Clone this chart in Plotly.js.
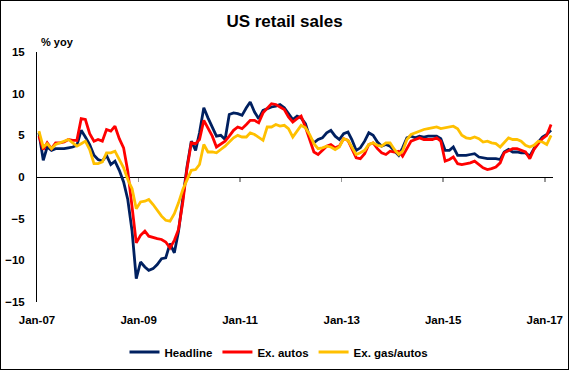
<!DOCTYPE html>
<html>
<head>
<meta charset="utf-8">
<script src="https://cdn.plot.ly/plotly-3.0.1.min.js"></script>
<style>
  html, body { margin: 0; padding: 0; background: #fff; }
  #wrap { width: 569px; height: 370px; box-sizing: border-box; border: 1px solid #000; }
  #chart { width: 567px; height: 368px; }
</style>
</head>
<body>
<div id="wrap"><div id="chart"></div></div>
<script>
// Monthly series, Jan-07 .. Feb-17 (% yoy)
const startYear = 2007;
const seriesNames = ['Headline', 'Ex. autos', 'Ex. gas/autos'];
const seriesColors = ['#002060', '#FF0000', '#FFC000'];

const headline = [
  5.3, 2.0, 3.6, 3.2, 3.4, 3.4, 3.4, 3.5, 3.6, 3.8, 5.6, 4.8,
  3.9, 2.6, 2.1, 1.9, 2.6, 1.5, 1.9, 0.8, -0.6, -2.7, -6.5, -12.2,
  -10.2, -10.8, -11.2, -11.0, -10.5, -9.8, -9.7, -8.0, -9.1, -6.5, -2.5, 1.2,
  4.3, 3.2, 5.3, 8.3, 7.1, 5.9, 4.9, 5.0, 4.5, 7.5, 7.7, 7.6,
  7.4, 8.3, 9.0, 7.8, 7.0, 8.0, 8.2, 8.4, 8.5, 8.7, 8.3, 7.6,
  6.9, 7.3, 7.1, 6.4, 4.8, 4.1, 4.5, 4.7, 5.3, 5.6, 4.9, 4.5,
  5.2, 5.4, 4.5, 3.2, 3.5, 4.3, 5.3, 5.0, 4.2, 3.7, 3.9, 3.7,
  3.1, 2.6, 3.5, 4.7, 4.9, 4.7, 4.9, 4.8, 4.9, 4.9, 4.9, 4.6,
  3.2, 3.2, 3.6, 2.6, 2.6, 2.6, 2.7, 2.8, 2.4, 2.3, 2.2, 2.2,
  2.2, 2.1, 3.0, 3.3, 3.0, 3.0, 2.9, 2.9, 2.5, 3.4, 4.2, 4.8,
  5.1, 5.6
];
const exAutos = [
  4.9, 3.3, 4.1, 3.4, 4.1, 4.1, 4.2, 4.5, 4.4, 4.4, 7.0, 6.9,
  5.2, 4.3, 4.5, 4.3, 5.7, 5.5, 6.1, 4.6, 3.5, 0.7, -3.6, -7.9,
  -7.0, -6.5, -7.1, -7.3, -7.4, -7.5, -7.8, -8.5, -7.6, -6.3, -3.0, 1.0,
  4.1, 4.0, 4.5, 6.8, 5.9, 4.9, 3.6, 3.9, 4.3, 4.9, 5.6, 6.0,
  5.8, 6.3, 6.8, 6.8, 6.5, 7.7, 8.2, 8.8, 8.7, 8.4, 8.1, 7.2,
  6.6, 7.0, 7.3, 6.0, 4.5, 3.0, 2.7, 3.2, 3.7, 3.9, 3.5, 3.7,
  4.6, 4.4, 3.4, 2.3, 2.2, 2.8, 3.9, 4.1, 3.4, 2.9, 2.7, 3.1,
  3.0, 3.1, 2.5, 3.5, 4.3, 4.5, 4.7, 4.5, 4.5, 4.5, 4.7, 4.3,
  1.9, 2.1, 2.4, 1.6, 1.5, 1.6, 1.7, 1.9, 1.5, 1.1, 0.9, 1.0,
  1.2, 1.7, 2.9, 3.2, 3.4, 3.4, 3.2, 3.0, 2.2, 3.3, 4.0, 4.6,
  5.0, 6.3
];
const exGasAutos = [
  5.5, 3.6, 4.0, 3.4, 3.9, 4.1, 4.3, 4.5, 4.1, 3.7, 4.0, 4.3,
  3.3, 1.6, 1.6, 1.8, 2.9, 2.9, 3.1, 2.0, 1.1, -0.3, -1.4, -3.8,
  -3.0, -2.9, -2.7, -3.3, -4.0, -4.7, -5.2, -5.3, -4.4, -3.1, -1.5, -0.3,
  0.8, 0.9, 1.5, 3.9, 3.0, 3.0, 2.9, 3.3, 3.7, 4.2, 4.7, 5.0,
  4.8, 4.8, 5.3, 5.1, 4.7, 4.4, 6.0, 6.0, 6.3, 6.1, 6.2, 5.8,
  4.8, 5.6, 6.2, 5.9, 5.1, 4.0, 3.4, 3.5, 3.7, 3.6, 3.3, 3.6,
  4.6, 4.4, 3.6, 2.7, 2.9, 3.2, 3.9, 4.1, 3.8, 3.7, 4.1, 4.1,
  3.3, 2.7, 3.1, 4.5, 5.1, 5.3, 5.5, 5.7, 5.8, 5.9, 6.0, 5.8,
  5.9, 6.0, 6.1, 5.8, 5.0, 4.7, 4.6, 4.8, 4.6, 4.2, 4.3, 4.1,
  4.0, 3.6, 4.2, 4.7, 4.5, 4.5, 4.3, 3.8, 3.6, 3.8, 4.3, 4.2,
  3.9, 5.0
];

const tickLabelsText = ['Jan-07', 'Jan-09', 'Jan-11', 'Jan-13', 'Jan-15', 'Jan-17'];
const tickDates = ['2007-01-01', '2009-01-01', '2011-01-01', '2013-01-01', '2015-01-01', '2017-01-01'];
const yTicks = [-15, -10, -5, 0, 5, 10, 15];

// month dates (plotted mid-month)
const dates = headline.map((_, i) => {
  const y = startYear + Math.floor(i / 12);
  const m = (i % 12) + 1;
  return y + '-' + String(m).padStart(2, '0') + '-15';
});

const FONT = 'Liberation Sans, Arial, sans-serif';
const allSeries = [headline, exAutos, exGasAutos];
const xRange = ['2007-01-01', '2017-03-01'];

// invisible carrier trace so the zero-line tick axis (xaxis2) is drawn
const traces = [{
  type: 'scatter', mode: 'lines', x: dates, y: headline,
  xaxis: 'x2', yaxis: 'y', opacity: 0, showlegend: false,
  line: { width: 0 }, hoverinfo: 'skip'
}].concat(allSeries.map((vals, k) => ({
  type: 'scatter',
  mode: 'lines',
  x: dates,
  y: vals,
  name: seriesNames[k],
  line: { color: seriesColors[k], width: 2.8 },
  hoverinfo: 'skip'
})));

const layout = {
  width: 567,
  height: 368,
  margin: { l: 36, r: 15, t: 51, b: 67, autoexpand: false },
  paper_bgcolor: '#ffffff',
  plot_bgcolor: '#ffffff',
  font: { family: FONT, color: '#000', size: 12 },
  showlegend: true,
  title: {
    text: 'US retail sales',
    font: { family: FONT, size: 17, weight: 'bold', color: '#000' },
    x: 0.5, xanchor: 'center',
    y: 1 - 20 / 368, yref: 'container', yanchor: 'middle'
  },
  xaxis: {
    type: 'date',
    range: xRange,
    tickvals: tickDates,
    ticktext: tickLabelsText,
    showgrid: false,
    zeroline: false,
    showline: false,
    ticks: '',
    automargin: false,
    ticklabelstandoff: 9,
    tickfont: { family: FONT, size: 11.5, weight: 'bold', color: '#000' },
    fixedrange: true
  },
  xaxis2: {
    type: 'date',
    overlaying: 'x',
    anchor: 'free',
    position: 0.5,
    side: 'bottom',
    range: xRange,
    tickvals: tickDates.slice(1),
    showticklabels: false,
    showgrid: false,
    zeroline: false,
    showline: false,
    ticks: 'outside',
    ticklen: 4,
    tickwidth: 1.5,
    tickcolor: '#999',
    automargin: false,
    fixedrange: true
  },
  yaxis: {
    range: [-15, 15],
    tickvals: yTicks,
    showgrid: false,
    zeroline: true,
    zerolinecolor: '#000',
    zerolinewidth: 1,
    showline: true,
    linecolor: '#000',
    linewidth: 1,
    ticks: '',
    automargin: false,
    ticklabelstandoff: 9,
    tickfont: { family: FONT, size: 11.5, weight: 'bold', color: '#000' },
    fixedrange: true
  },
  legend: {
    orientation: 'h',
    x: 0.469, xanchor: 'center',
    y: -0.2, yanchor: 'middle',
    itemwidth: 30,
    tracegroupgap: 0,
    font: { family: FONT, size: 11.5, weight: 'bold', color: '#000' },
    bgcolor: 'rgba(0,0,0,0)'
  },
  annotations: [{
    text: '% yoy',
    xref: 'paper', yref: 'paper',
    x: 0, xanchor: 'left', xshift: 2,
    y: 1 + 10 / 250, yanchor: 'middle',
    showarrow: false,
    font: { family: FONT, size: 11, weight: 'bold', color: '#000' }
  }]
};

Plotly.newPlot('chart', traces, layout, { displayModeBar: false, staticPlot: true });
</script>
</body>
</html>
